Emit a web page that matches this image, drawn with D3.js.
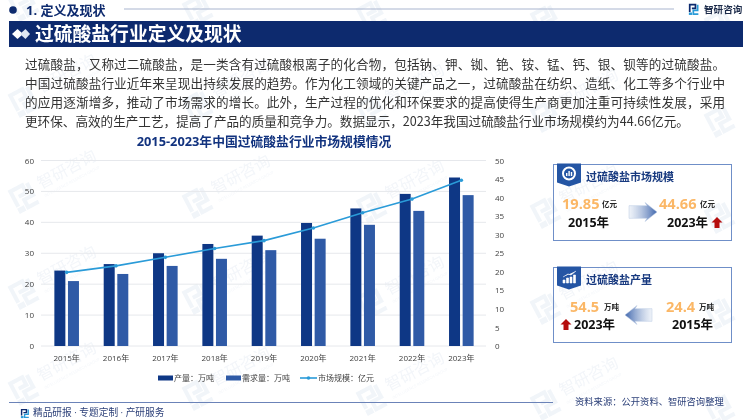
<!DOCTYPE html>
<html lang="zh-CN">
<head>
<meta charset="UTF-8">
<title>过硫酸盐行业定义及现状</title>
<script src="https://cdn.jsdelivr.net/npm/d3@7"></script>
<style>
    html, body {margin: 0; height: 100%; overflow: hidden; background: #fff}
    svg text {font-family: "Open Sans", "Noto Sans CJK SC", sans-serif}
    svg text.body {font-family: "Noto Sans CJK SC", sans-serif}
</style>
</head>
<body>
<svg id="page" width="750" height="420"></svg>
<script>
// chart data
const years = ["2015年","2016年","2017年","2018年","2019年","2020年","2021年","2022年","2023年"];
const output = [24.4, 26.5, 30, 33, 35.7, 39.8, 44.5, 49.2, 54.5];
const demand = [21, 23.3, 25.9, 28.2, 31, 34.7, 39.2, 43.7, 48.8];
const market = [19.85, 21.6, 23.9, 26.3, 28.4, 31.8, 35.9, 39.6, 44.66];
const leftTicks = [0, 10, 20, 30, 40, 50, 60];
const rightTicks = [0, 5, 10, 15, 20, 25, 30, 35, 40, 45, 50];
const legendNames = ["产量：万吨", "需求量：万吨", "市场规模：亿元"];

const bodyLines = [
    "过硫酸盐，又称过二硫酸盐，是一类含有过硫酸根离子的化合物，包括钠、钾、铷、铯、铵、锰、钙、银、钡等的过硫酸盐。",
    "中国过硫酸盐行业近年来呈现出持续发展的趋势。作为化工领域的关键产品之一，过硫酸盐在纺织、造纸、化工等多个行业中",
    "的应用逐渐增多，推动了市场需求的增长。此外，生产过程的优化和环保要求的提高使得生产商更加注重可持续性发展，采用",
    "更环保、高效的生产工艺，提高了产品的质量和竞争力。数据显示，2023年我国过硫酸盐行业市场规模约为44.66亿元。"
];

const navy = "#0d2a6e", dark = "#0e3785", light = "#2f5aa6", lineCol = "#2a9bd8";
const svg = d3.select("#page");

function put(g, x, y, str, size, fill, weight, anchor) {
    return g.append("text").attr("x", x).attr("y", y).text(str)
        .attr("font-size", size).attr("fill", fill)
        .attr("font-weight", weight || 400).attr("text-anchor", anchor || "start");
}

// little company logo, also used for the watermark
function logo(g, x, y, s, c1, c2) {
    const l = g.append("g").attr("transform", `translate(${x},${y}) scale(${s})`)
        .attr("fill", "none").attr("stroke-width", 2.4);
    l.append("path").attr("d", "M1 11V1H9V6H4").attr("stroke", c1);
    l.append("path").attr("d", "M1 14V13H3V14Z").attr("stroke", c2);
    l.append("path").attr("d", "M12 1V9H6V14H13").attr("stroke", c2);
}

// watermark
const wm = svg.append("g").attr("opacity", 0.55);
for (let r = -1; r < 5; r++) {
    for (let c = 0; c < 5; c++) {
        const x = c * 174 + 8, y = r * 96 + 95 + c * 5;
        const m = wm.append("g").attr("transform", `translate(${x},${y}) rotate(-28)`);
        logo(m, 0, 0, 1.7, "#e6edf5", "#e6edf5");
        const t1 = put(m, 30, 14, "智研咨询", 16, "#e9eef5");
        const t2 = put(m, 30, 23, "INTELLIGENCE RESEARCH GROUP", 4, "#e9eef5");
        // marks running off the page keep only the logo
        [t1, t2].forEach(t => {
            const b = t.node().getBoundingClientRect();
            if (b.left < 0 || b.top < 0 || b.right > 750 || b.bottom > 420) t.remove();
        });
    }
}

// header
svg.append("circle").attr("cx", 13).attr("cy", 10).attr("r", 3.8).attr("fill", navy);
put(svg, 26, 15, "1. 定义及现状", 13, navy, 700);
svg.append("line").attr("x1", 124).attr("x2", 674).attr("y1", 9).attr("y2", 9)
    .attr("stroke", "#a9b5cf").attr("stroke-width", 1);
logo(svg, 689, 4, 0.72, navy, "#2a9bd8");
put(svg, 704, 13, "智研咨询", 9.6, "#1c2b4a", 700);

svg.append("rect").attr("x", 9).attr("y", 21).attr("width", 734).attr("height", 26).attr("fill", navy);
svg.append("path").attr("d", "M12 34l5.5-5 5.5 5-5.5 5Z").attr("fill", "#fff");
svg.append("path").attr("d", "M20 34l5.5-5 4.5 5-4.5 5Z").attr("fill", "#dfe6f2");
put(svg, 35, 41, "过硫酸盐行业定义及现状", 18.8, "#fff", 700);

// the paragraph is justified, only its last line keeps natural spacing
svg.selectAll("text.body").data(bodyLines).join("text")
    .attr("class", "body").attr("x", 25).attr("y", (d, i) => 69 + i * 19)
    .attr("font-size", 12.6).attr("fill", "#333")
    .attr("textLength", (d, i) => i < 3 ? 700 : null)
    .attr("lengthAdjust", "spacing")
    .text(d => d);

put(svg, 264, 146, "2015-2023年中国过硫酸盐行业市场规模情况", 12.8, "#12337f", 700, "middle");

// chart
const x = d3.scaleBand().domain(years).range([42, 486]);
const yL = d3.scaleLinear().domain([0, 60]).range([346, 160.5]);
const yR = d3.scaleLinear().domain([0, 50]).range([346, 160.5]);

svg.append("g").selectAll("line").data(leftTicks).join("line")
    .attr("x1", 41).attr("x2", 486)
    .attr("y1", d => yL(d)).attr("y2", d => yL(d))
    .attr("stroke", "#e6e8ec").attr("stroke-width", 1);

const axL = svg.append("g").attr("transform", "translate(38,0)")
    .call(d3.axisLeft(yL).tickValues(leftTicks).tickSize(0).tickPadding(4));
const axR = svg.append("g").attr("transform", "translate(491,0)")
    .call(d3.axisRight(yR).tickValues(rightTicks).tickSize(0).tickPadding(4));
const axB = svg.append("g").attr("transform", "translate(0,346)")
    .call(d3.axisBottom(x).tickSize(0).tickPadding(9));
[axL, axR, axB].forEach(a => {
    a.select(".domain").remove();
    a.selectAll("text").attr("font-size", 8).attr("fill", "#404040");
});

const bw = 11;
svg.append("g").selectAll("rect").data(output).join("rect")
    .attr("x", (d, i) => x(years[i]) + x.bandwidth() / 2 - bw - 1.3)
    .attr("y", d => yL(d)).attr("width", bw).attr("height", d => yL(0) - yL(d))
    .attr("fill", dark);
svg.append("g").selectAll("rect").data(demand).join("rect")
    .attr("x", (d, i) => x(years[i]) + x.bandwidth() / 2 + 1.3)
    .attr("y", d => yL(d)).attr("width", bw).attr("height", d => yL(0) - yL(d))
    .attr("fill", light);

const line = d3.line().x((d, i) => x(years[i]) + x.bandwidth() / 2).y(d => yR(d));
svg.append("path").datum(market).attr("d", line)
    .attr("fill", "none").attr("stroke", lineCol).attr("stroke-width", 1.6);
svg.append("g").selectAll("circle").data(market).join("circle")
    .attr("cx", (d, i) => x(years[i]) + x.bandwidth() / 2).attr("cy", d => yR(d))
    .attr("r", 1.8).attr("fill", lineCol);

// legend
svg.append("rect").attr("x", 158).attr("y", 375.5).attr("width", 15).attr("height", 5).attr("fill", dark);
put(svg, 174, 381, legendNames[0], 8, "#404040");
svg.append("rect").attr("x", 226).attr("y", 375.5).attr("width", 15).attr("height", 5).attr("fill", light);
put(svg, 242, 381, legendNames[1], 8, "#404040");
svg.append("line").attr("x1", 300).attr("x2", 317).attr("y1", 378).attr("y2", 378).attr("stroke", lineCol).attr("stroke-width", 1.6);
svg.append("circle").attr("cx", 308.5).attr("cy", 378).attr("r", 1.8).attr("fill", lineCol);
put(svg, 318, 381, legendNames[2], 8, "#404040");

// side cards
const defs = svg.append("defs");
[["fadeR", 0, 1], ["fadeL", 1, 0]].forEach(([id, a, b]) => {
    const g = defs.append("linearGradient").attr("id", id).attr("x1", a).attr("x2", b).attr("y1", 0).attr("y2", 0);
    g.append("stop").attr("offset", 0).attr("stop-color", "#dfe7f3").attr("stop-opacity", 0.5);
    g.append("stop").attr("offset", 1).attr("stop-color", "#3f66ad");
});

function card(y, h, title) {
    svg.append("rect").attr("x", 553.5).attr("y", y).attr("width", 178).attr("height", h)
        .attr("fill", "none").attr("stroke", "#6f8fc8").attr("stroke-width", 1);
    svg.append("path").attr("d", `M557 ${y - 1}h24v19l-12 4l-12-4Z`).attr("fill", "#2455a4");
    put(svg, 586, y + 16, title, 11, "#17397f", 700);
}
function upArrow(cx, y) {
    svg.append("path").attr("fill", "#b50d0d")
        .attr("d", `M${cx} ${y}l5.5 5.5h-3v5.5h-5v-5.5h-3Z`);
}
function fatArrow(x0, x1, cy, h, id) {
    const d = x1 > x0 ? 1 : -1, neck = x1 - d * 10;
    svg.append("path").attr("fill", `url(#${id})`).attr("stroke", "#b9c8e2").attr("stroke-width", 0.5)
        .attr("d", `M${x0} ${cy - h / 3}L${neck} ${cy - h / 3}L${neck - d * 2} ${cy - h / 2}L${x1} ${cy}L${neck - d * 2} ${cy + h / 2}L${neck} ${cy + h / 3}L${x0} ${cy + h / 3}Z`);
}

card(164.5, 76, "过硫酸盐市场规模");
svg.append("circle").attr("cx", 569).attr("cy", 173.5).attr("r", 6).attr("fill", "none").attr("stroke", "#fff").attr("stroke-width", 2);
svg.append("path").attr("d", "M566 176v-3h1.4v3ZM568.4 176v-5h1.4v5ZM570.8 176v-4h1.4v4Z").attr("fill", "#fff");
put(svg, 562, 208.5, "19.85", 14.6, "#fbb766", 700);
put(svg, 602, 207, "亿元", 7.5, "#222", 700);
put(svg, 568, 227, "2015年", 12.5, "#111", 700);
fatArrow(629, 657, 212, 19, "fadeR");
put(svg, 659, 208.5, "44.66", 14.6, "#fbb766", 700);
put(svg, 700, 207, "亿元", 7.5, "#222", 700);
put(svg, 667, 227, "2023年", 12.5, "#111", 700);
upArrow(717, 217);

card(267.5, 75, "过硫酸盐产量");
svg.append("path").attr("d", "M563 283v-3h2v3ZM566.5 283v-5h2v5ZM570 283v-6h2v6ZM573.5 283v-8h2v8ZM563 277l5-3 3 1 5-4").attr("fill", "#fff").attr("stroke", "#fff").attr("stroke-width", 0.6);
put(svg, 570, 311.5, "54.5", 14.6, "#fbb766", 700);
put(svg, 604, 310, "万吨", 7.5, "#222", 700);
put(svg, 574, 329, "2023年", 12.5, "#111", 700);
upArrow(566, 319);
fatArrow(652, 625, 315, 19, "fadeL");
put(svg, 666, 311.5, "24.4", 14.6, "#fbb766", 700);
put(svg, 699, 310, "万吨", 7.5, "#222", 700);
put(svg, 672, 329, "2015年", 12.5, "#111", 700);

// footer
svg.append("line").attr("x1", 9).attr("x2", 553).attr("y1", 402.5).attr("y2", 402.5).attr("stroke", "#6b83b8").attr("stroke-width", 1);
logo(svg, 21, 409, 0.6, navy, "#2a9bd8");
put(svg, 33, 416, "精品研报 · 专题定制 · 产研服务", 9.7, "#2b3f78");
put(svg, 575, 405, "资料来源：公开资料、智研咨询整理", 9.3, "#2b3f78");
</script>
</body>
</html>
